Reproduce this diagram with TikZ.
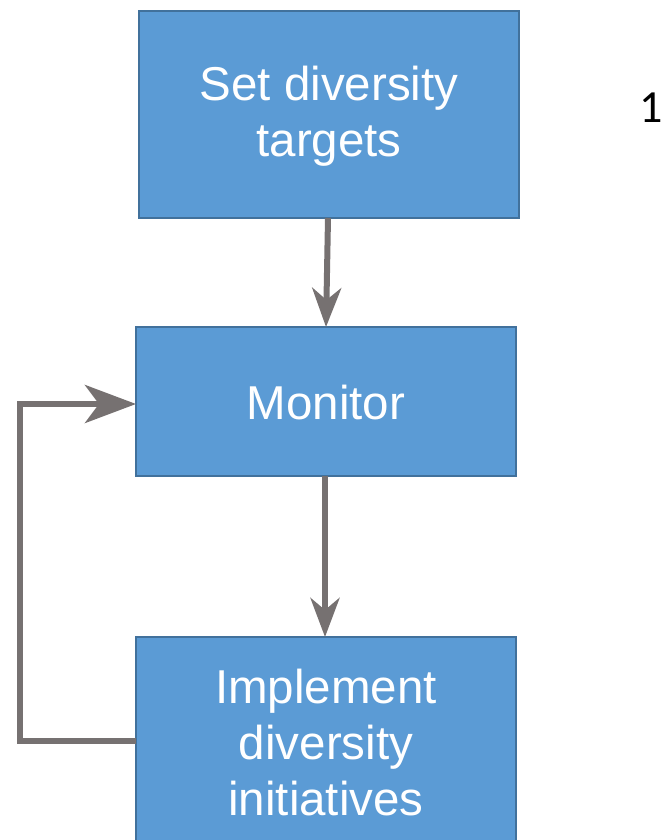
\documentclass[tikz,border=0pt]{standalone}
\usepackage{fontspec}
\setmainfont{Liberation Sans}
\newfontfamily\numfont{Carlito}
\usetikzlibrary{arrows.meta}
\definecolor{boxfill}{HTML}{5B9BD5}
\definecolor{boxline}{HTML}{41719C}
\definecolor{flowgrey}{HTML}{767171}
\begin{document}
\begin{tikzpicture}[x=1pt,y=-1pt,
  stepbox/.style={draw=boxline,line width=2.5pt,fill=boxfill,inner sep=0pt},
  boxtext/.style={text=white,font=\fontsize{47.5}{56}\selectfont,align=center},
  flow/.style={draw=flowgrey,line width=6pt,
    -{Stealth[length=39pt,width=29pt,inset=12pt]}},
  loopflow/.style={draw=flowgrey,line width=6pt,
    -{Stealth[length=51pt,width=38pt,inset=14pt]}}]
\useasboundingbox (0,0) rectangle (664,840);
\begin{scope}
\clip (0,0) rectangle (664,840);
% boxes
\path[stepbox] (139,11) rectangle (519,218);
\path[stepbox] (136,327) rectangle (516,476);
\path[stepbox] (136,637) rectangle (516,880);
\end{scope}
\coordinate (topS) at (328,218);
\coordinate (midN) at (326,327);
\coordinate (midS) at (325,476);
\coordinate (botN) at (325,637);
\coordinate (botW) at (136,741);
\coordinate (midW) at (136,404);
\node[boxtext] (top) at (329,116) {Set diversity\\targets};
\node[boxtext] (mid) at (326,403) {Monitor};
\node[boxtext] (bot) at (326,743) {Implement\\diversity\\initiatives};
\node[font=\numfont\fontsize{46}{50}\selectfont] (num) at (651,108) {1};
% connectors
\draw[flow] (topS) -- (midN);
\draw[flow] (midS) -- (botN);
\draw[loopflow] (botW) -- (20,741) -- (20,404) -- (midW);
\end{tikzpicture}
\end{document}
